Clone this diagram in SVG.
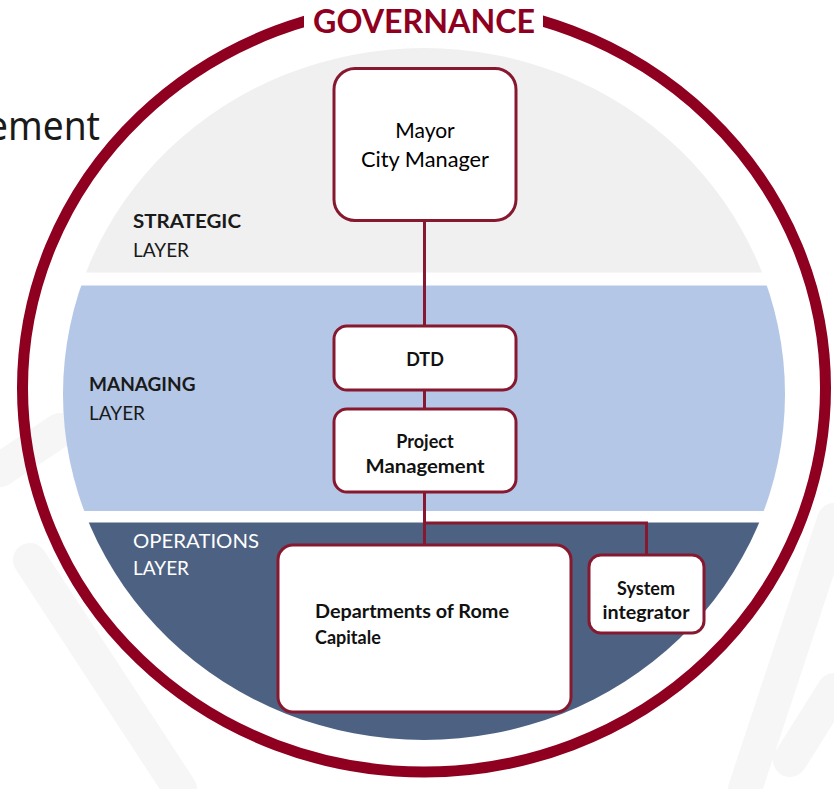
<svg xmlns="http://www.w3.org/2000/svg" width="834" height="789" viewBox="0 0 834 789">
  <defs>
    <style>
      .box { fill: #ffffff; stroke: #86192f; stroke-width: 3; }
      .conn { fill: none; stroke: #86192f; stroke-width: 3; }
      .reg { font-family: Lato, "Open Sans", "Liberation Sans", sans-serif; font-size: 21px; fill: #000000; }
      .bold { font-family: Lato, "Open Sans", "Liberation Sans", sans-serif; font-size: 18px; font-weight: bold; fill: #111111; }
      .lbl { font-family: Lato, "Open Sans", "Liberation Sans", sans-serif; font-size: 19px; fill: #1a1a1a; }
      .wm { fill: none; stroke: #f6f6f6; stroke-width: 34; stroke-linecap: round; }
    </style>
    <clipPath id="disc">
      <ellipse cx="424" cy="394" rx="361" ry="346"/>
    </clipPath>
  </defs>

  <rect x="0" y="0" width="834" height="789" fill="#ffffff"/>

  <!-- faint watermark background -->
  <g id="watermark">
    <path class="wm" d="M834 520 L745 789"/>
    <path class="wm" d="M834 690 L790 760"/>
    <path class="wm" d="M0 470 L60 430"/>
    <path class="wm" d="M30 560 L180 789"/>
  </g>

  <text x="-13" y="140" font-family="'Noto Sans', 'Open Sans', sans-serif" font-size="40" fill="#1a1a1a" textLength="113" lengthAdjust="spacingAndGlyphs">ement</text>

  <!-- layer bands -->
  <g id="bands" clip-path="url(#disc)">
    <rect x="0" y="0" width="834" height="272.5" fill="#f0f0f0"/>
    <rect x="0" y="285.5" width="834" height="225.5" fill="#b4c7e7"/>
    <rect x="0" y="522.5" width="834" height="240" fill="#4d6283"/>
  </g>

  <!-- governance ring -->
  <g id="governance">
    <ellipse cx="424" cy="388" rx="401.5" ry="384" fill="none" stroke="#8f0020" stroke-width="11"/>
    <rect x="304" y="0" width="239" height="44" fill="#ffffff"/>
    <text x="424" y="33" text-anchor="middle" font-family="Lato, 'Open Sans', 'Liberation Sans', sans-serif" font-size="32" font-weight="bold" fill="#8f0020" textLength="222" lengthAdjust="spacingAndGlyphs">GOVERNANCE</text>
  </g>

  <!-- layer labels -->
  <g id="strategic-label">
    <text class="lbl" x="133" y="228" font-weight="bold" textLength="108" lengthAdjust="spacingAndGlyphs">STRATEGIC</text>
    <text class="lbl" x="133" y="257">LAYER</text>
  </g>
  <g id="managing-label">
    <text class="lbl" x="89" y="391" font-weight="bold">MANAGING</text>
    <text class="lbl" x="89" y="420">LAYER</text>
  </g>
  <g id="operations-label">
    <text class="lbl" x="133" y="548" style="fill:#ffffff" textLength="126" lengthAdjust="spacingAndGlyphs">OPERATIONS</text>
    <text class="lbl" x="133" y="575" style="fill:#ffffff">LAYER</text>
  </g>

  <!-- connectors -->
  <g id="connectors">
    <line class="conn" x1="424.5" y1="220" x2="424.5" y2="327"/>
    <line class="conn" x1="424.5" y1="390" x2="424.5" y2="410"/>
    <line class="conn" x1="424.5" y1="492" x2="424.5" y2="546"/>
    <polyline class="conn" points="424.5,523 646.5,523 646.5,555"/>
  </g>

  <!-- nodes -->
  <g id="mayor">
    <rect class="box" x="334" y="68.5" width="182" height="152" rx="21"/>
    <text class="reg" x="425" y="138" text-anchor="middle">Mayor</text>
    <text class="reg" x="425" y="167" text-anchor="middle" textLength="128" lengthAdjust="spacingAndGlyphs">City Manager</text>
  </g>

  <g id="dtd">
    <rect class="box" x="334" y="326" width="182" height="64" rx="13"/>
    <text class="bold" x="425" y="366" text-anchor="middle">DTD</text>
  </g>

  <g id="project-management">
    <rect class="box" x="334" y="409" width="182" height="83" rx="13"/>
    <text class="bold" x="425" y="448" text-anchor="middle">Project</text>
    <text class="bold" x="425" y="473" text-anchor="middle" textLength="119" lengthAdjust="spacingAndGlyphs">Management</text>
  </g>

  <g id="departments">
    <rect class="box" x="278" y="545" width="293" height="167" rx="15"/>
    <text class="bold" x="315" y="618" textLength="194" lengthAdjust="spacingAndGlyphs">Departments of Rome</text>
    <text class="bold" x="315" y="644">Capitale</text>
  </g>

  <g id="system-integrator">
    <rect class="box" x="589" y="555" width="115" height="78" rx="12"/>
    <text class="bold" x="646" y="595" text-anchor="middle">System</text>
    <text class="bold" x="646" y="619" text-anchor="middle" textLength="87" lengthAdjust="spacingAndGlyphs">integrator</text>
  </g>
</svg>
